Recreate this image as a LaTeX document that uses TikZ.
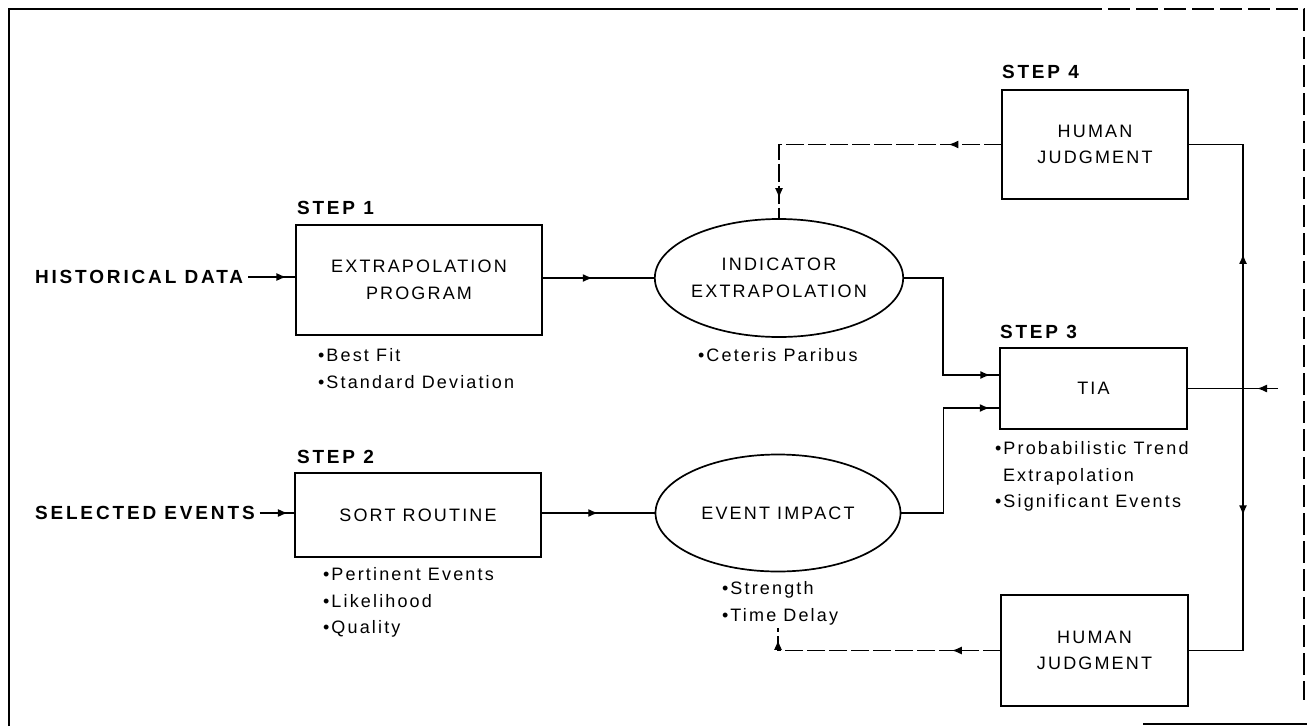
\documentclass[tikz,border=0pt]{standalone}
\usepackage{fontspec}
\setmainfont{Liberation Sans}
\newfontfamily\lbl[LetterSpace=12]{Liberation Sans}
\newfontfamily\lblb[LetterSpace=15]{Liberation Sans}
\usetikzlibrary{shapes.geometric,arrows.meta,decorations.markings,calc}

\tikzset{
  every node/.style={inner sep=0pt, outer sep=0pt},
  txt/.style={font=\lbl\fontsize{18}{26.5}\selectfont},
  box/.style={txt, draw, line width=1.7pt, align=center},
  oval/.style={txt, ellipse, draw, line width=1.7pt, align=center},
  steplbl/.style={font=\lblb\bfseries\fontsize{19}{22}\selectfont, anchor=west},
  inlbl/.style={font=\lblb\bfseries\fontsize{19}{22}\selectfont, anchor=west, outer sep=5pt},
  notes/.style={txt, align=left, anchor=north west},
  conn/.style={line width=1.4pt},
  fb/.style={conn, dash pattern=on 18pt off 4pt},
  frame/.style={line width=2pt},
  tip/.style={postaction={decorate}, decoration={markings,
      mark=at position #1 with {\arrow{Latex[length=10pt,width=8pt]}}}},
  tiptwo/.style 2 args={postaction={decorate}, decoration={markings,
      mark=at position #1 with {\arrow{Latex[length=10pt,width=8pt]}},
      mark=at position #2 with {\arrow{Latex[length=10pt,width=8pt]}}}},
}

\begin{document}
\begin{tikzpicture}[x=1pt,y=-1pt]
\useasboundingbox (0,0) rectangle (1307,726);

% outer frame
\draw[frame] (9,726) -- (9,9) -- (1080,9);
\draw[frame, dash pattern=on 22pt off 6pt] (1080,9) -- (1304,9) -- (1304,700);
\draw[frame] (1143,724) -- (1307,724);

% process boxes and ovals
\node[box, minimum width=246pt, minimum height=110pt] (s1) at (419,280) {EXTRAPOLATION\\PROGRAM};
\node[oval, minimum width=248pt, minimum height=118pt] (ie) at (779,278) {INDICATOR\\EXTRAPOLATION};
\node[box, minimum width=186pt, minimum height=109pt] (hj1) at (1095,144.5) {HUMAN\\JUDGMENT};
\node[box, minimum width=187pt, minimum height=81pt] (tia) at (1093.5,388.5) {TIA};
\node[box, minimum width=246pt, minimum height=84pt] (s2) at (418,515) {SORT ROUTINE};
\node[oval, minimum width=245pt, minimum height=117pt] (ei) at (778,513) {EVENT IMPACT};
\node[box, minimum width=187pt, minimum height=111pt] (hj2) at (1094.5,650.5) {HUMAN\\JUDGMENT};

% step headings
\node[steplbl] (st1) at (297,208) {STEP 1};
\node[steplbl] (st2) at (297,457) {STEP 2};
\node[steplbl] (st3) at (1000,332) {STEP 3};
\node[steplbl] (st4) at (1002,72) {STEP 4};

% inputs
\node[inlbl] (hd) at (30,277) {HISTORICAL DATA};
\node[inlbl] (se) at (30,513) {SELECTED EVENTS};

% notes under the elements
\node[notes] (n1) at (318,348.5) {•Best Fit\\•Standard Deviation};
\node[notes] (n2) at (698,348.5) {•Ceteris Paribus};
\node[notes] (n3) at (995,441.5) {•Probabilistic Trend\\\hspace*{8pt}Extrapolation\\•Significant Events};
\node[notes] (n4) at (323,567.5) {•Pertinent Events\\•Likelihood\\•Quality};
\node[notes] (n5) at (722,581.5) {•Strength\\•Time Delay};

% junction points
\coordinate (jn) at (1243,388.5);
\coordinate (out) at (1278,388.5);
\coordinate (eiin) at ($(ei.south)+(0,56)$);

% connectors
\draw[conn, tip=0.8] (hd.east) -- (hd.east -| s1.west);
\draw[conn, tip=0.45] (s1.east |- ie.west) -- (ie.west);
\draw[fb, tiptwo={0.18}{0.93}] (hj1.west) -| (ie.north);
\draw[conn, tip=0.95] (ie.east) -- ++(40,0) |- ($(tia.west)+(0,-13.5)$);
\draw[conn, tip=0.95] (ei.east) -- ++(43,0) |- ($(tia.west)+(0,19.5)$);
\draw[conn, tip=0.8] (se.east) -- (se.east -| s2.west);
\draw[conn, tip=0.5] (s2.east |- ei.west) -- (ei.west);
\draw[fb, tiptwo={0.2}{0.95}] (hj2.west) -- (hj2.west -| eiin) -- (eiin);
\draw[conn] (tia.east) -- (jn);
\draw[conn, tip=0.6] (out) -- (jn);
\draw[conn, tip=0.45] (jn) |- (hj1.east);
\draw[conn, tip=0.40] (jn) |- (hj2.east);
\end{tikzpicture}
\end{document}
